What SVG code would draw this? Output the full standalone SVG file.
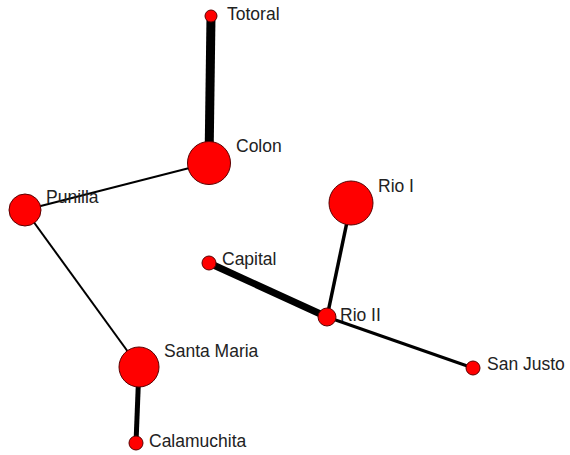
<svg xmlns="http://www.w3.org/2000/svg" width="570" height="455" viewBox="0 0 570 455">
<style>
.n{fill:#ff0000;stroke:#5a0000;stroke-width:1}
.l{font-family:"Liberation Sans",Arial,sans-serif;font-size:17.5px;fill:#222}
.e{stroke:#000;stroke-linecap:butt;fill:none}
</style>
<rect width="570" height="455" fill="#fff"/>
<g id="connectors">
<line class="e" x1="211" y1="16" x2="209" y2="163" stroke-width="9"/>
<line class="e" x1="209" y1="163" x2="25" y2="210" stroke-width="2"/>
<line class="e" x1="25" y1="210" x2="139" y2="367" stroke-width="2"/>
<line class="e" x1="139" y1="367" x2="136" y2="443" stroke-width="5"/>
<line class="e" x1="351" y1="203" x2="327" y2="317" stroke-width="3.5"/>
<line class="e" x1="209" y1="263" x2="327" y2="317" stroke-width="7"/>
<line class="e" x1="327" y1="317" x2="473" y2="368" stroke-width="3"/>
</g>
<g id="totoral"><circle class="n" cx="211" cy="16" r="6"/><text class="l" x="227" y="20">Totoral</text></g>
<g id="colon"><circle class="n" cx="209" cy="163" r="21.5"/><text class="l" x="236" y="152">Colon</text></g>
<g id="punilla"><circle class="n" cx="25" cy="210" r="16"/><text class="l" x="46" y="203">Punilla</text></g>
<g id="rio-i"><circle class="n" cx="351" cy="203" r="22"/><text class="l" x="378" y="192">Rio I</text></g>
<g id="capital"><circle class="n" cx="209" cy="263" r="7"/><text class="l" x="222" y="265">Capital</text></g>
<g id="rio-ii"><circle class="n" cx="327" cy="317" r="9"/><text class="l" x="340" y="321">Rio II</text></g>
<g id="san-justo"><circle class="n" cx="473" cy="368" r="7"/><text class="l" x="487" y="370">San Justo</text></g>
<g id="santa-maria"><circle class="n" cx="139" cy="367" r="20"/><text class="l" x="164" y="357">Santa Maria</text></g>
<g id="calamuchita"><circle class="n" cx="136" cy="443" r="7"/><text class="l" x="149" y="447">Calamuchita</text></g>
</svg>
